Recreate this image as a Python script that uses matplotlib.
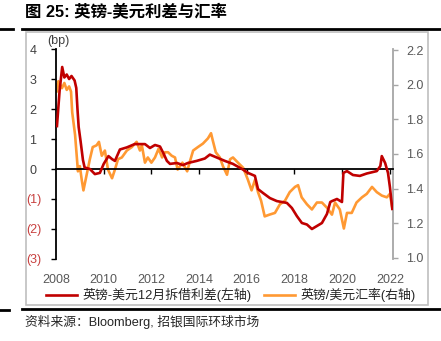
import matplotlib
matplotlib.use("Agg")
import matplotlib.pyplot as plt
from matplotlib.lines import Line2D
from matplotlib.patches import Rectangle
import numpy as np

plt.rcParams['font.family'] = ['Liberation Sans', 'Noto Sans CJK SC']

# ---------------- data ----------------
spread_years = [2008.04, 2008.15, 2008.26, 2008.35, 2008.45, 2008.55, 2008.65, 2008.78, 2008.85,
                2008.9, 2008.95, 2009.03, 2009.13, 2009.2, 2009.42, 2009.63, 2009.84, 2010.0,
                2010.2, 2010.35, 2010.47, 2010.68, 2010.97, 2011.3, 2011.73, 2011.94, 2012.15,
                2012.36, 2012.5, 2012.65, 2012.78, 2013.07, 2013.32, 2013.53, 2013.9, 2014.24,
                2014.45, 2014.75, 2015.08, 2015.42, 2015.8, 2016.05, 2016.34, 2016.47, 2016.68,
                2016.97, 2017.26, 2017.68, 2017.89, 2018.1, 2018.31, 2018.52, 2018.73, 2018.94,
                2019.15, 2019.36, 2019.5, 2019.57, 2019.78, 2019.99, 2020.05, 2020.2, 2020.45,
                2020.74, 2021.03, 2021.45, 2021.6, 2021.66, 2021.8, 2021.92, 2022.0, 2022.1]
spread_values = [1.43, 2.6, 3.4, 3.05, 3.15, 3.0, 3.1, 2.95, 2.7,
                 2.0, 1.4, 0.93, 0.3, 0.05, 0.0, -0.17, -0.13, 0.17,
                 0.43, 0.33, 0.27, 0.65, 0.72, 0.83, 0.83, 0.7, 0.8,
                 0.75, 0.53, 0.27, 0.17, 0.2, 0.13, 0.2, 0.27, 0.35,
                 0.48, 0.38, 0.27, 0.17, 0.0, -0.13, -0.23, -0.67, -0.8,
                 -0.97, -1.07, -1.13, -1.3, -1.57, -1.8, -1.85, -2.0, -1.9,
                 -1.8, -1.5, -1.1, -1.07, -1.0, -1.1, -0.13, -0.07, -0.2,
                 -0.23, -0.15, -0.07, 0.1, 0.43, 0.2, -0.13, -0.6, -1.33]

fx_years = [2008.0, 2008.04, 2008.1, 2008.25, 2008.35, 2008.45, 2008.55, 2008.63, 2008.68,
            2008.8, 2008.88, 2008.92, 2009.0, 2009.08, 2009.15, 2009.3, 2009.42, 2009.54,
            2009.7, 2009.8, 2009.92, 2010.05, 2010.18, 2010.35, 2010.47, 2010.6, 2010.76,
            2010.97, 2011.18, 2011.38, 2011.52, 2011.6, 2011.73, 2011.85, 2012.0, 2012.15,
            2012.3, 2012.45, 2012.57, 2012.7, 2012.85, 2012.99, 2013.1, 2013.3, 2013.5,
            2013.6, 2013.75, 2013.95, 2014.16, 2014.37, 2014.5, 2014.57, 2014.7, 2014.87,
            2015.0, 2015.17, 2015.3, 2015.42, 2015.63, 2015.85, 2016.05, 2016.2, 2016.34,
            2016.47, 2016.6, 2016.75, 2016.95, 2017.18, 2017.39, 2017.6, 2017.8, 2018.02,
            2018.15, 2018.3, 2018.52, 2018.73, 2018.94, 2019.15, 2019.36, 2019.57, 2019.7,
            2019.9, 2020.07, 2020.2, 2020.4, 2020.6, 2020.83, 2021.03, 2021.25, 2021.45,
            2021.66, 2021.87, 2022.0, 2022.1]
fx_values = [2.0, 1.96, 2.02, 1.98, 2.01, 1.97, 1.99, 1.96, 1.84,
             1.71, 1.57, 1.50, 1.53, 1.45, 1.39, 1.49, 1.57, 1.64,
             1.65, 1.67, 1.59, 1.62, 1.51, 1.46, 1.51, 1.57, 1.58,
             1.62, 1.64, 1.67, 1.62, 1.65, 1.55, 1.58, 1.55, 1.58,
             1.63, 1.58, 1.61, 1.61, 1.59, 1.58, 1.51, 1.55, 1.50,
             1.55, 1.62, 1.64, 1.66, 1.69, 1.72, 1.68, 1.61, 1.58,
             1.53, 1.48, 1.57, 1.58, 1.55, 1.52, 1.45, 1.39, 1.45,
             1.38, 1.33, 1.24, 1.25, 1.26, 1.31, 1.33, 1.38, 1.41,
             1.42, 1.35, 1.31, 1.28, 1.32, 1.32, 1.29, 1.25, 1.32,
             1.28, 1.17, 1.26, 1.26, 1.32, 1.35, 1.37, 1.41, 1.38,
             1.36, 1.35, 1.37, 1.29]

x_ticks = [2008, 2010, 2012, 2014, 2016, 2018, 2020, 2022]
left_ticks = [4, 3, 2, 1, 0, -1, -2, -3]
right_ticks = [1.0, 1.2, 1.4, 1.6, 1.8, 2.0, 2.2]

label_spread = '英镑-美元12月拆借利差(左轴)'
label_fx = '英镑/美元汇率(右轴)'
title = '图 25: 英镑-美元利差与汇率'
source = '资料来源：Bloomberg, 招银国际环球市场'

RED = '#C00000'
ORANGE = '#FF9933'
GRAY = '#595959'
NEG = '#C8403F'

W, H = 441, 341
fig = plt.figure(figsize=(W / 100, H / 100), dpi=100)

def fx_(px):
    return px / W

def fy_(py):
    return 1 - py / H

ax_l, ax_r, ax_t, ax_b = 56, 393, 49, 259
ax = fig.add_axes([fx_(ax_l), fy_(ax_b), (ax_r - ax_l) / W, (ax_b - ax_t) / H])
ax.set_facecolor('none')
ax.set_xlim(2008, 2022.13)
ax.set_ylim(-3, 4)

ax2 = ax.twinx()
ax2.set_ylim(0.994, 2.206)

l1, = ax.plot(spread_years, spread_values, color=RED, lw=1.9, zorder=3)
l2, = ax2.plot(fx_years, fx_values, color=ORANGE, lw=1.9, zorder=2)
ax.set_zorder(ax2.get_zorder() + 1)

# spines
for s in ['top', 'bottom', 'right']:
    ax.spines[s].set_visible(False)
ax.spines['left'].set_color('black')
ax.spines['left'].set_linewidth(1.3)
for s in ['top', 'bottom', 'left']:
    ax2.spines[s].set_visible(False)
ax2.spines['right'].set_color('#A6A6A6')
ax2.spines['right'].set_linewidth(1.3)

# x axis labels at bottom (no ticks), zero line with ticks
ax.set_xticks(x_ticks)
ax.set_xticklabels([str(t) for t in x_ticks])
ax.tick_params(axis='x', length=0, pad=11, labelsize=9, labelcolor=GRAY)
sec = ax.secondary_xaxis(3 / 7)
sec.set_xticks(x_ticks[1:])
sec.tick_params(axis='x', direction='out', length=3.5, width=1.0, color='black', labelbottom=False)
sec.spines['bottom'].set_linewidth(1.3)
sec.spines['bottom'].set_color('black')
sec.set_xticklabels([])

# left y axis
ax.set_yticks(left_ticks)
ax.set_yticklabels([str(v) if v >= 0 else '(%d)' % (-v) for v in left_ticks])
ax.tick_params(axis='y', direction='out', length=3.5, width=1.0, color='black', pad=7, labelsize=9)
for v, lab in zip(left_ticks, ax.get_yticklabels()):
    if v < 0:
        lab.set_color(NEG)
    else:
        lab.set_color('#404040')
        lab.set_x(-5 / (ax_r - ax_l))

# right y axis
ax2.set_yticks(right_ticks)
ax2.set_yticklabels(['%.1f' % v for v in right_ticks])
ax2.tick_params(axis='y', direction='out', length=3.5, width=1.0, color='#A6A6A6', pad=6,
                labelsize=9, labelcolor=GRAY)

fig.text(fx_(47), fy_(41), '(bp)', fontsize=9, color='#404040', va='center', ha='left')

# legend
fig.legend([l1, l2], [label_spread, label_fx], loc='center', bbox_to_anchor=(fx_(231), fy_(295)),
           ncol=2, frameon=False, fontsize=9.3, handlelength=2.4, handletextpad=0.4,
           columnspacing=1.0, labelcolor='#262626', borderaxespad=0, borderpad=0)

# frame box, header/footer rules
fig.add_artist(Rectangle((fx_(26), fy_(305)), (428 - 26) / W, (305 - 32) / H, fill=False,
                         edgecolor='#BFBFBF', lw=1.2, transform=fig.transFigure))
fig.add_artist(Line2D([fx_(22), 1], [fy_(29), fy_(29)], color='black', lw=2.0))
fig.add_artist(Line2D([0, fx_(13)], [fy_(29), fy_(29)], color='black', lw=2.0))
fig.add_artist(Line2D([fx_(22), 1], [fy_(309), fy_(309)], color='black', lw=2.0))
fig.add_artist(Line2D([0, fx_(9)], [fy_(310), fy_(310)], color='black', lw=2.0))

fig.text(fx_(25), fy_(12), title, fontsize=11.8, fontweight='bold', va='center', ha='left', color='black')
fig.text(fx_(25), fy_(322), source, fontsize=9.2, va='center', ha='left', color='#262626')

fig.savefig('out.png', dpi=100)
